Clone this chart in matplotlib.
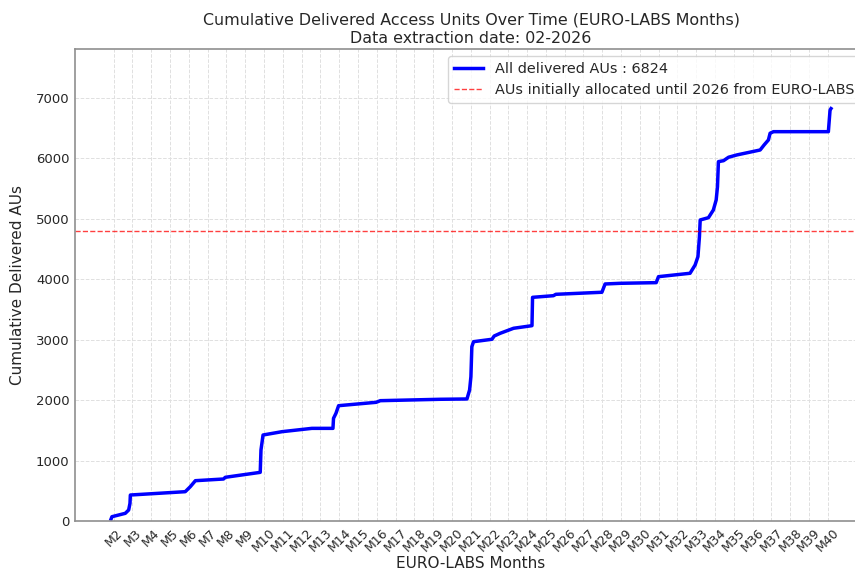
import matplotlib
matplotlib.use('Agg')
import matplotlib.pyplot as plt

# Data (x in EURO-LABS month units, y cumulative delivered AUs)
months = [1.86, 1.91, 2.62, 2.80, 2.87, 2.89, 5.81, 6.08, 6.35, 7.85, 7.94, 9.80,
          9.84, 9.95, 10.96, 12.55, 13.67, 13.70, 13.83, 13.97, 15.97, 16.19,
          19.38, 20.80, 20.94, 21.01, 21.06, 21.15, 22.13, 22.25, 22.57, 23.28,
          24.26, 24.29, 25.40, 25.53, 27.98, 28.15, 28.95, 30.87, 30.99, 32.67,
          32.94, 33.09, 33.17, 33.21, 33.65, 33.91, 34.06, 34.13, 34.18, 34.45,
          34.72, 35.16, 36.40, 36.61, 36.84, 36.93, 37.11, 40.03, 40.12, 40.17]
delivered = [30, 71, 127, 182, 292, 430, 485, 568, 667, 695, 723, 805,
             1175, 1423, 1478, 1533, 1533, 1699, 1782, 1908, 1964, 1991,
             2014, 2019, 2168, 2388, 2884, 2967, 3007, 3061, 3106, 3189,
             3232, 3701, 3728, 3751, 3785, 3922, 3933, 3944, 4043, 4099,
             4236, 4374, 4705, 4981, 5019, 5146, 5312, 5532, 5946, 5962,
             6019, 6057, 6139, 6222, 6305, 6416, 6442, 6442, 6801, 6824]
total_delivered = 6824
allocated = 4800
tick_months = list(range(2, 41))
tick_labels = [f"M{m}" for m in tick_months]

TXT = '#262626'

fig = plt.figure(figsize=(8.55, 5.71), dpi=100)
ax = fig.add_axes([75 / 855, 1 - 521 / 571, 792 / 855, (521 - 49) / 571])

ax.plot(months, delivered, color='blue', linewidth=2.5,
        label=f"All delivered AUs : {total_delivered}")
ax.axhline(allocated, color='red', linestyle='--', linewidth=1, alpha=0.75,
           label="AUs initially allocated until 2026 from EURO-LABS")

ax.set_ylim(0, 7810)
ax.margins(x=0.05)
ax.set_xticks(tick_months)
ax.set_xticklabels(tick_labels, rotation=45)
ax.tick_params(axis='x', length=0, labelsize=9, colors=TXT, pad=4)
ax.tick_params(axis='y', length=0, labelsize=9.5, colors=TXT, pad=4)

ax.grid(True, linestyle='--', color='#e0e0e0', linewidth=0.7)
ax.set_axisbelow(True)
for s in ax.spines.values():
    s.set_color('#8f8f8f')
    s.set_linewidth(1.2)

ax.set_xlabel("EURO-LABS Months", fontsize=11, color=TXT, labelpad=1)
ax.set_ylabel("Cumulative Delivered AUs", fontsize=11, color=TXT, labelpad=8)
ax.set_title("Cumulative Delivered Access Units Over Time (EURO-LABS Months)\n"
             "Data extraction date: 02-2026", fontsize=11.4, color=TXT, pad=4,
             linespacing=1.3)

leg = ax.legend(loc='upper right', fontsize=10.4, frameon=True, fancybox=True)
leg.get_frame().set_edgecolor('#cccccc')
for t in leg.get_texts():
    t.set_color(TXT)

fig.savefig('out.png', dpi=100)
